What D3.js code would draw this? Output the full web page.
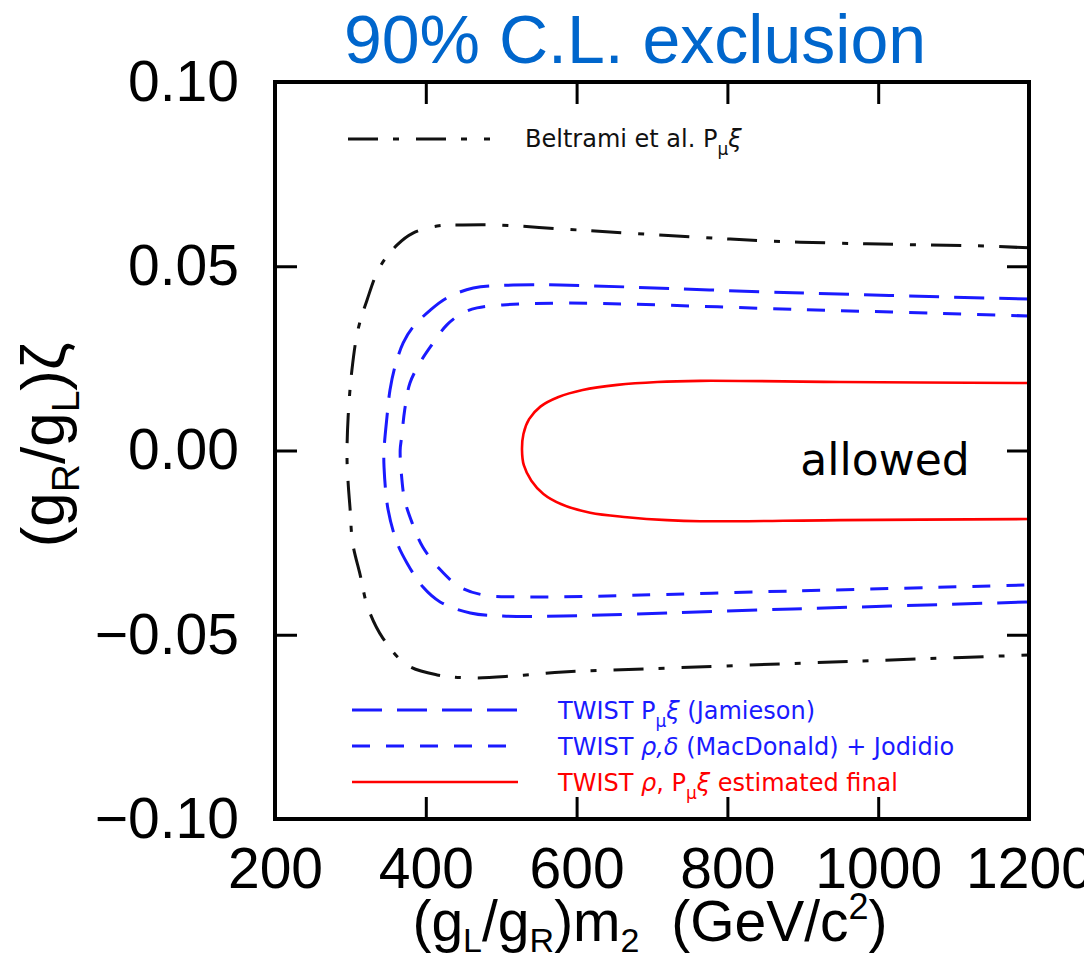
<!DOCTYPE html>
<html>
<head>
<meta charset="utf-8">
<script src="https://cdn.jsdelivr.net/npm/d3@7"></script>
<style>
  body { margin: 0; background: #fff; }
  svg { display: block; }
</style>
</head>
<body>
<svg id="chart" width="1084" height="961"></svg>
<script>
// contour points, traced from top-right round to bottom-right
var beltramiX = [1200, 1122, 1029, 940, 847, 760, 667, 582, 494, 449, 415, 383, 362, 339, 322, 310, 302, 297, 295.5, 297, 299.5, 303, 313, 323, 343, 375, 415, 459, 516, 582, 700, 900, 1050, 1200];
var beltramiY = [0.0550, 0.0556, 0.0559, 0.0563, 0.0569, 0.0579, 0.0590, 0.0601, 0.0612, 0.0612, 0.0609, 0.0590, 0.0558, 0.0498, 0.0408, 0.0327, 0.0218, 0.0091, -0.0018, -0.0088, -0.0156, -0.0251, -0.0338, -0.0425, -0.0509, -0.0582, -0.0609, -0.0617, -0.0612, -0.0601, -0.0592, -0.0577, -0.0566, -0.0555];

var jamiesonX = [1200, 887, 578, 516, 463, 428, 406, 383, 370, 359, 352.5, 348.5, 344.6, 344.6, 350, 362, 375, 396, 419, 459, 502, 582, 887, 1200];
var jamiesonY = [0.0411, 0.0428, 0.0449, 0.0449, 0.0441, 0.0414, 0.0381, 0.0335, 0.0292, 0.0227, 0.0164, 0.0091, 0.0001, -0.0045, -0.0161, -0.0251, -0.0305, -0.0370, -0.0411, -0.0441, -0.0449, -0.0449, -0.0430, -0.0411];

var macdonaldX = [1200, 891, 591, 502, 468, 449, 428, 406, 392, 379, 372, 368, 366, 368, 372, 382, 396, 419, 445, 476, 521, 582, 891, 1200];
var macdonaldY = [0.0365, 0.0383, 0.0400, 0.0395, 0.0387, 0.0373, 0.0341, 0.0281, 0.0237, 0.0183, 0.0110, 0.0037, 0.0001, -0.0072, -0.0134, -0.0197, -0.0262, -0.0323, -0.0370, -0.0392, -0.0397, -0.0397, -0.0381, -0.0365];

var finalX = [1200, 950, 764, 707, 654, 608, 576, 552, 537, 529.5, 527.6, 530, 540, 556, 580, 618, 667, 720, 764, 950, 1200];
var finalY = [0.0183, 0.0186, 0.0189, 0.0186, 0.0178, 0.0164, 0.0145, 0.0119, 0.0085, 0.0045, 0.0001, -0.0040, -0.0082, -0.0118, -0.0146, -0.0169, -0.0181, -0.0189, -0.0192, -0.0189, -0.0186];

var xTicks = [200, 400, 600, 800, 1000, 1200];
var yTicks = [0.10, 0.05, 0.00, -0.05, -0.10];

var svg = d3.select("#chart");
var pLeft = 275, pRight = 1029, pTop = 82, pBottom = 819;

var x = d3.scaleLinear().domain([200, 1200]).range([pLeft, pRight]);
var y = d3.scaleLinear().domain([-0.10, 0.10]).range([pBottom, pTop]);

svg.append("rect").attr("width", 1084).attr("height", 961).attr("fill", "#fff");

svg.append("defs").append("clipPath").attr("id", "plotclip")
  .append("rect").attr("x", pLeft).attr("y", pTop).attr("width", pRight - pLeft).attr("height", pBottom - pTop);

var line = d3.line()
  .x(function (d) { return x(d[0]); })
  .y(function (d) { return y(d[1]); })
  .curve(d3.curveCatmullRom.alpha(0.5));

function zip(xs, ys) { return xs.map(function (v, i) { return [v, ys[i]]; }); }

var curves = [
  { pts: zip(beltramiX, beltramiY), color: "#111", dash: "30,15,6,17", w: 3 },
  { pts: zip(jamiesonX, jamiesonY), color: "#1a1aff", dash: "30,15", w: 3 },
  { pts: zip(macdonaldX, macdonaldY), color: "#1a1aff", dash: "18,16", w: 3 },
  { pts: zip(finalX, finalY), color: "#ff0000", dash: null, w: 2.6 }
];

var g = svg.append("g").attr("clip-path", "url(#plotclip)");
curves.forEach(function (c) {
  g.append("path").datum(c.pts)
    .attr("d", line)
    .attr("fill", "none")
    .attr("stroke", c.color)
    .attr("stroke-width", c.w)
    .attr("stroke-dasharray", c.dash);
});

// axes: ticks point inside the frame
var fmt = d3.format(".2f");
var axL = svg.append("g").attr("transform", "translate(" + pLeft + ",0)")
  .call(d3.axisLeft(y).tickValues(yTicks).tickSize(-22).tickPadding(36).tickFormat(fmt));
var axB = svg.append("g").attr("transform", "translate(0," + pBottom + ")")
  .call(d3.axisBottom(x).tickValues(xTicks).tickSize(-22).tickPadding(29).tickFormat(d3.format("d")));
var axR = svg.append("g").attr("transform", "translate(" + pRight + ",0)")
  .call(d3.axisRight(y).tickValues(yTicks).tickSize(-22).tickFormat(""));
var axT = svg.append("g").attr("transform", "translate(0," + pTop + ")")
  .call(d3.axisTop(x).tickValues(xTicks).tickSize(-22).tickFormat(""));

[axL, axB, axR, axT].forEach(function (a) {
  a.select(".domain").remove();
  a.selectAll(".tick line").attr("stroke", "#000").attr("stroke-width", 3);
  a.selectAll(".tick text").attr("fill", "#000")
    .style("font-family", "'Liberation Sans', Arial, sans-serif").style("font-size", "57px");
});

svg.append("rect")
  .attr("x", pLeft).attr("y", pTop).attr("width", pRight - pLeft).attr("height", pBottom - pTop)
  .attr("fill", "none").attr("stroke", "#000").attr("stroke-width", 4);

// title
svg.append("text").attr("x", 635).attr("y", 63).attr("text-anchor", "middle")
  .attr("fill", "#0066cc")
  .style("font-family", "'Liberation Sans', Arial, sans-serif").style("font-size", "68px")
  .text("90% C.L. exclusion");

// x axis label
var xl = svg.append("text").attr("x", 650).attr("y", 941).attr("text-anchor", "middle")
  .style("font-family", "'Liberation Sans', Arial, sans-serif").style("font-size", "57px");
xl.append("tspan").text("(g");
xl.append("tspan").attr("dy", 11).style("font-size", "34px").text("L");
xl.append("tspan").attr("dy", -11).text("/g");
xl.append("tspan").attr("dy", 11).style("font-size", "34px").text("R");
xl.append("tspan").attr("dy", -11).text(")m");
xl.append("tspan").attr("dy", 11).style("font-size", "34px").text("2");
xl.append("tspan").attr("dy", -11).text("\u00a0 (GeV/c");
xl.append("tspan").attr("dy", -22).style("font-size", "36px").text("2");
xl.append("tspan").attr("dy", 22).text(")");

// y axis label
var yl = svg.append("text").attr("transform", "translate(64,445) rotate(-90)").attr("text-anchor", "middle")
  .style("font-family", "'Liberation Sans', Arial, sans-serif").style("font-size", "62px");
yl.append("tspan").text("(g");
yl.append("tspan").attr("dy", 15).style("font-size", "39px").text("R");
yl.append("tspan").attr("dy", -15).text("/g");
yl.append("tspan").attr("dy", 15).style("font-size", "39px").text("L");
yl.append("tspan").attr("dy", -15).text(")\u03b6");

// "allowed"
svg.append("text").attr("x", 885).attr("y", 475).attr("text-anchor", "middle")
  .style("font-family", "'DejaVu Sans', sans-serif").style("font-size", "44px")
  .text("allowed");

// legend
var legFont = "'DejaVu Sans', sans-serif";
function legendText(tx, ty, color, parts) {
  var t = svg.append("text").attr("x", tx).attr("y", ty).attr("fill", color)
    .style("font-family", legFont).style("font-size", "24px");
  parts.forEach(function (p) {
    var s = t.append("tspan").text(p.t);
    if (p.dy) s.attr("dy", p.dy);
    if (p.fs) s.style("font-size", p.fs);
    if (p.it) s.style("font-style", "italic");
  });
}

svg.append("line").attr("x1", 348).attr("x2", 490).attr("y1", 139).attr("y2", 139)
  .attr("stroke", "#111").attr("stroke-width", 3).attr("stroke-dasharray", "30,15,6,17");
legendText(525, 147, "#111", [{ t: "Beltrami et al. P" }, { t: "\u03bc", dy: 8, fs: "17px" }, { t: "\u03be", dy: -8, it: true }]);

var legRows = [
  { y: 710, color: "#1a1aff", dash: "30,15", w: 3 },
  { y: 746, color: "#1a1aff", dash: "18,16", w: 3 },
  { y: 782, color: "#ff0000", dash: null, w: 2.6 }
];
legRows.forEach(function (r) {
  svg.append("line").attr("x1", 352).attr("x2", 518).attr("y1", r.y).attr("y2", r.y)
    .attr("stroke", r.color).attr("stroke-width", r.w).attr("stroke-dasharray", r.dash);
});
legendText(558, 719, "#1a1aff", [{ t: "TWIST P" }, { t: "\u03bc", dy: 8, fs: "17px" }, { t: "\u03be", dy: -8, it: true }, { t: " (Jamieson)" }]);
legendText(558, 755, "#1a1aff", [{ t: "TWIST " }, { t: "\u03c1,\u03b4", it: true }, { t: " (MacDonald) + Jodidio" }]);
legendText(558, 791, "#ff0000", [{ t: "TWIST " }, { t: "\u03c1", it: true }, { t: ", P" }, { t: "\u03bc", dy: 8, fs: "17px" }, { t: "\u03be", dy: -8, it: true }, { t: " estimated final" }]);
</script>
</body>
</html>
